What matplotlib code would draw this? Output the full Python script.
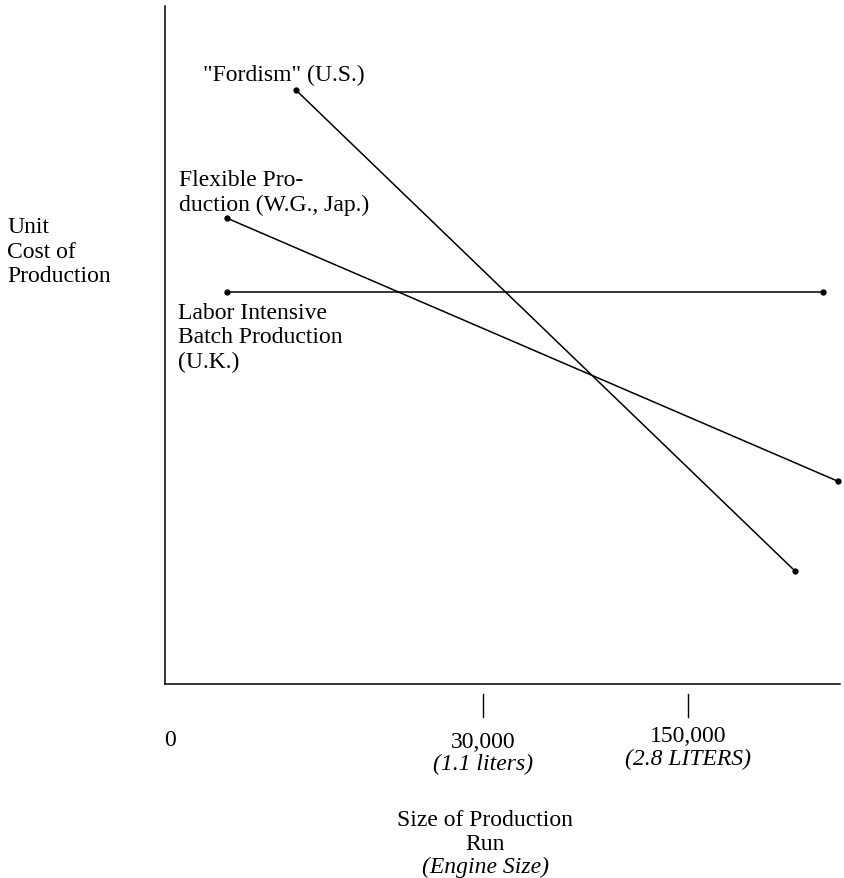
import matplotlib.pyplot as plt
from matplotlib.transforms import blended_transform_factory

# positions on an arbitrary 0-100 scale
fordism_x = [19.4, 93.3]
fordism_y = [87.6, 16.7]
flexible_x = [9.2, 99.7]
flexible_y = [68.7, 29.9]
labor_x = [9.2, 97.5]
labor_y = [57.8, 57.8]

tick_pos = [47.1, 77.5]
tick_main = ["30,000", "150,000"]
tick_sub = ["(1.1 liters)", "(2.8 LITERS)"]

plt.rcParams['font.family'] = ['Liberation Serif', 'DejaVu Serif']
fs = 17
ls = 1.22

fig = plt.figure(figsize=(8.45, 8.79), dpi=100)
W, H = 845, 879
ax = fig.add_axes([165 / W, 1 - 685 / H, (840 - 165) / W, (685 - 7) / H])
ax.set_xlim(0, 100)
ax.set_ylim(0, 100)
for s in ['top', 'right']:
    ax.spines[s].set_visible(False)
for s in ['left', 'bottom']:
    ax.spines[s].set_linewidth(1.1)
ax.set_xticks([])
ax.set_yticks([])

for xs, ys in [(fordism_x, fordism_y), (flexible_x, flexible_y), (labor_x, labor_y)]:
    ax.plot(xs, ys, color='black', lw=1.1, marker='o', ms=3.5, clip_on=False)

# detached tick marks below the axis
tr = blended_transform_factory(ax.transData, fig.transFigure)
for x in tick_pos:
    ax.plot([x, x], [1 - 695 / H, 1 - 718 / H], color='black', lw=1.0,
            transform=tr, clip_on=False)

for x, a, b in zip(tick_pos, tick_main, tick_sub):
    off = 0 if a == "30,000" else -5
    px = ax.transData.transform((x, 0))[0] / W
    fig.text(px, 1 - (742 + off) / H, a, ha='center', va='center', fontsize=fs)
    fig.text(px, 1 - (764 + off) / H, b, ha='center', va='center', fontsize=fs,
             style='italic')

fig.text(170 / W, 1 - 741 / H, "0", ha='center', va='center', fontsize=fs)

# x axis title
fig.text(485 / W, 1 - 821 / H, "Size of Production", ha='center', va='center', fontsize=fs)
fig.text(485 / W, 1 - 845 / H, "Run", ha='center', va='center', fontsize=fs)
fig.text(485 / W, 1 - 867 / H, "(Engine Size)", ha='center', va='center', fontsize=fs,
         style='italic')

# y axis title
fig.text(7 / W, 1 - 252 / H, "Unit\nCost of\nProduction", ha='left', va='center',
         fontsize=fs, linespacing=ls)

# line labels
fig.text(203 / W, 1 - 75 / H, '"Fordism" (U.S.)', ha='left', va='center', fontsize=fs)
fig.text(179 / W, 1 - 193 / H, "Flexible Pro-\nduction (W.G., Jap.)", ha='left',
         va='center', fontsize=fs, linespacing=ls)
fig.text(178 / W, 1 - 338 / H, "Labor Intensive\nBatch Production\n(U.K.)", ha='left',
         va='center', fontsize=fs, linespacing=ls)

fig.savefig('out.png', dpi=100)
